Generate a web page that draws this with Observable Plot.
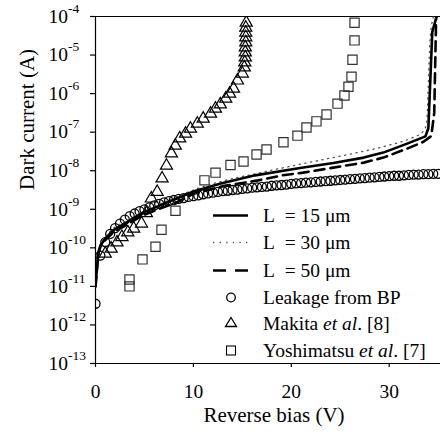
<!DOCTYPE html>
<html><head><meta charset="utf-8">
<script src="https://cdn.jsdelivr.net/npm/d3@7"></script>
<script src="https://cdn.jsdelivr.net/npm/@observablehq/plot@0.6"></script>
<style>
body{margin:0;background:#fff;font-family:'Liberation Serif',serif;}
#wrap{position:relative;width:440px;height:436px;font-family:'Liberation Serif',serif;}
#legend{position:absolute;left:0;top:0;font-size:19.5px;color:#000;font-family:'Liberation Serif',serif;}
.row{position:absolute;left:205px;height:27px;white-space:pre;display:flex;align-items:center;}
.row svg{width:52px;height:27px;flex:none;}
.row span{margin-left:6px;}
</style></head>
<body><div id="wrap"><div id="chart"></div><div id="legend"></div></div>
<script>
// ---- data (exponents are log10 of current in A) ----
const xTicks = [0, 10, 20, 30];
const yTicks = [1e-13,1e-12,1e-11,1e-10,1e-9,1e-8,1e-7,1e-6,1e-5,1e-4];

const leakV = [0,0.5,1,1.5,2,2.5,3,3.5,4,4.5,5,5.5,6,6.5,7,7.5,8,8.5,9,9.5,10,10.5,11,11.5,12,12.5,13,13.5,14,14.5,15,15.5,16,16.5,17,17.5,18,18.5,19,19.5,20,20.5,21,21.5,22,22.5,23,23.5,24,24.5,25,25.5,26,26.5,27,27.5,28,28.5,29,29.5,30,30.5,31,31.5,32,32.5,33,33.5,34,34.5,35];
const leakExp = [-11.45,-10.20,-9.85,-9.64,-9.49,-9.37,-9.27,-9.18,-9.11,-9.05,-9.00,-8.95,-8.90,-8.86,-8.82,-8.79,-8.76,-8.73,-8.71,-8.68,-8.66,-8.64,-8.61,-8.59,-8.57,-8.55,-8.53,-8.52,-8.50,-8.49,-8.47,-8.46,-8.44,-8.43,-8.42,-8.41,-8.39,-8.38,-8.37,-8.36,-8.34,-8.33,-8.32,-8.31,-8.30,-8.29,-8.28,-8.27,-8.26,-8.25,-8.24,-8.23,-8.22,-8.21,-8.20,-8.19,-8.18,-8.17,-8.16,-8.15,-8.14,-8.13,-8.13,-8.12,-8.11,-8.10,-8.10,-8.09,-8.09,-8.08,-8.08];

const makitaV = [1.0,1.6,2.2,2.7,3.3,3.9,4.7,5.2,5.7,6.3,6.8,7.25,7.75,8.15,8.6,9.2,9.7,10.4,11.0,11.75,12.25,12.75,13.3,13.7,14.1,14.5,15.0,15.2,15.25,15.3,15.3,15.3,15.35,15.35,15.35,15.35,15.4];
const makitaExp = [-10.15,-10.02,-9.86,-9.72,-9.60,-9.50,-9.37,-9.10,-8.72,-8.55,-8.20,-7.87,-7.55,-7.35,-7.16,-7.04,-6.91,-6.78,-6.65,-6.52,-6.39,-6.28,-6.13,-6.00,-5.87,-5.66,-5.48,-5.32,-5.19,-5.06,-4.93,-4.80,-4.67,-4.54,-4.42,-4.29,-4.16];

const yoshiV = [3.47,3.47,4.80,6.13,6.74,8.17,11.13,12.26,13.79,15.12,16.45,17.47,19.20,20.63,21.55,22.57,23.60,24.72,25.43,25.84,26.15,26.25,26.46,26.46];
const yoshiExp = [-11.00,-10.82,-10.30,-9.97,-9.53,-9.04,-8.25,-8.05,-7.85,-7.76,-7.58,-7.45,-7.26,-7.09,-6.88,-6.72,-6.54,-6.26,-6.05,-5.82,-5.56,-5.12,-4.62,-4.16];

const l15V = [0,0.2,0.3,0.5,1.0,1.8,3.2,4.9,6.6,8.3,10,12.8,16.3,20.9,24.3,27.4,29.4,31.9,33.7,34.0,34.4,34.9];
const l15Exp = [-11.0,-10.38,-10.12,-9.94,-9.76,-9.55,-9.34,-9.08,-8.90,-8.72,-8.54,-8.33,-8.12,-7.93,-7.80,-7.66,-7.53,-7.29,-7.11,-6.90,-4.40,-3.95];

const l30V = [0,0.2,0.5,1.0,1.8,3.2,4.9,6.6,8.3,10,12.8,16.3,20,22.7,26,29.8,32.4,33.4,33.8,34.2,34.6];
const l30Exp = [-11.0,-10.35,-9.90,-9.72,-9.50,-9.30,-9.05,-8.86,-8.68,-8.50,-8.28,-8.08,-7.88,-7.74,-7.57,-7.35,-7.14,-7.00,-6.80,-4.50,-3.95];

const l50V = [0,0.2,0.3,0.5,1.0,1.8,3.2,4.9,6.6,8.3,10,13,16.6,19.1,21.2,24.3,27.4,29.4,31.9,33.5,34.3,34.6,34.8];
const l50Exp = [-11.0,-10.40,-10.15,-9.97,-9.80,-9.60,-9.40,-9.15,-8.98,-8.82,-8.60,-8.40,-8.25,-8.12,-8.05,-7.92,-7.79,-7.66,-7.42,-7.25,-7.10,-6.50,-3.95];

const legendLabels = ["L\u00a0\u00a0= 15 \u03bcm","L\u00a0\u00a0= 30 \u03bcm","L\u00a0\u00a0= 50 \u03bcm","Leakage from BP","Makita <i>et al</i>. [8]","Yoshimatsu <i>et al</i>. [7]"];

const pts = (V, E) => V.map((v, i) => ({V: v, I: Math.pow(10, E[i])}));
const leak = pts(leakV, leakExp), makita = pts(makitaV, makitaExp), yoshi = pts(yoshiV, yoshiExp);
const l15 = pts(l15V, l15Exp), l30 = pts(l30V, l30Exp), l50 = pts(l50V, l50Exp);

const FONT = "'Liberation Serif', serif";
const chart = Plot.plot({
  width: 440, height: 436,
  marginLeft: 95, marginRight: 0, marginTop: 16, marginBottom: 73,
  style: {fontFamily: FONT, fontSize: "19.5px", color: "#000", background: "#fff", overflow: "visible"},
  x: {domain: [0, 35.24]},
  y: {type: "log", domain: [1e-13, 1e-4]},
  marks: [
    Plot.axisY(yTicks, {tickSize: 5, tickPadding: 42, strokeWidth: 1.2, tickFormat: d => "10^" + Math.round(Math.log10(d)), label: null, fontSize: 19.5}),
    Plot.axisX(xTicks, {tickSize: 4, tickPadding: 17, strokeWidth: 1.2, label: null, fontSize: 19.5}),
    Plot.ruleY([1e-4], {stroke: "#000", strokeWidth: 1.2}),
    Plot.ruleY([1e-13], {stroke: "#000", strokeWidth: 1.2}),
    Plot.ruleX([0], {stroke: "#000", strokeWidth: 1.2}),
    Plot.dot(leak, {x: "V", y: "I", symbol: "circle", r: 4.5, stroke: "#000", strokeWidth: 1.3, fill: "none", clip: true}),
    Plot.dot(makita, {x: "V", y: "I", symbol: "triangle", r: 4.5, stroke: "#000", strokeWidth: 1.2, fill: "none", clip: true}),
    Plot.dot(yoshi, {x: "V", y: "I", symbol: "square", r: 5.2, stroke: "#333", strokeWidth: 1.2, fill: "none", clip: true}),
    Plot.line(l30, {x: "V", y: "I", stroke: "#555", strokeWidth: 1.3, strokeDasharray: "1.3,4.5", curve: "monotone-x", clip: true}),
    Plot.line(l50, {x: "V", y: "I", stroke: "#000", strokeWidth: 2.6, strokeDasharray: "10,6", curve: "linear", clip: true}),
    Plot.line(l15, {x: "V", y: "I", stroke: "#000", strokeWidth: 2.6, curve: "linear", clip: true}),
    Plot.text(["Dark current (A)"], {frameAnchor: "left", dx: -68, rotate: -90, fontSize: 21, fill: "#000"}),
    Plot.text(["Reverse bias (V)"], {frameAnchor: "bottom", dy: 58, dx: 6, fontSize: 21, fill: "#000"})
  ]
});
document.getElementById("chart").appendChild(chart);

const svg = d3.select(chart);
// superscript exponents on y tick labels, left-aligned like the original
svg.selectAll('g[aria-label="y-axis tick label"]').attr("text-anchor", "start");
svg.selectAll('g[aria-label="y-axis tick label"] text').each(function() {
  const t = this.textContent;
  const m = t.match(/^10\^(-?\d+)$/);
  if (!m) return;
  const el = d3.select(this);
  el.text(null);
  el.append("tspan").text("10");
  el.append("tspan").attr("dy", "-10").attr("font-size", "13.5").text(m[1]);
});

// legend
const leg = document.getElementById("legend");
const sym = [
  '<line x1="8" x2="43" y1="13.5" y2="13.5" stroke="#000" stroke-width="2.6"/>',
  '<line x1="8" x2="43" y1="13.5" y2="13.5" stroke="#555" stroke-width="1.3" stroke-dasharray="1.3,5.3"/>',
  '<line x1="8" x2="43" y1="13.5" y2="13.5" stroke="#000" stroke-width="2.6" stroke-dasharray="13,9"/>',
  '<circle cx="26" cy="13.5" r="4.3" fill="none" stroke="#000" stroke-width="1.3"/>',
  '<path d="M26,7.5L31.5,16.5L20.5,16.5Z" fill="none" stroke="#000" stroke-width="1.3"/>',
  '<rect x="21.5" y="9" width="9" height="9" fill="none" stroke="#000" stroke-width="1.1"/>'
];
const rowTops = [202, 229, 257, 284, 310, 337];
legendLabels.forEach((lab, i) => {
  const r = document.createElement("div");
  r.className = "row";
  r.style.top = rowTops[i] + "px";
  r.innerHTML = '<svg viewBox="0 0 52 27">' + sym[i] + '</svg><span>' + lab + '</span>';
  leg.appendChild(r);
});
</script></body></html>
